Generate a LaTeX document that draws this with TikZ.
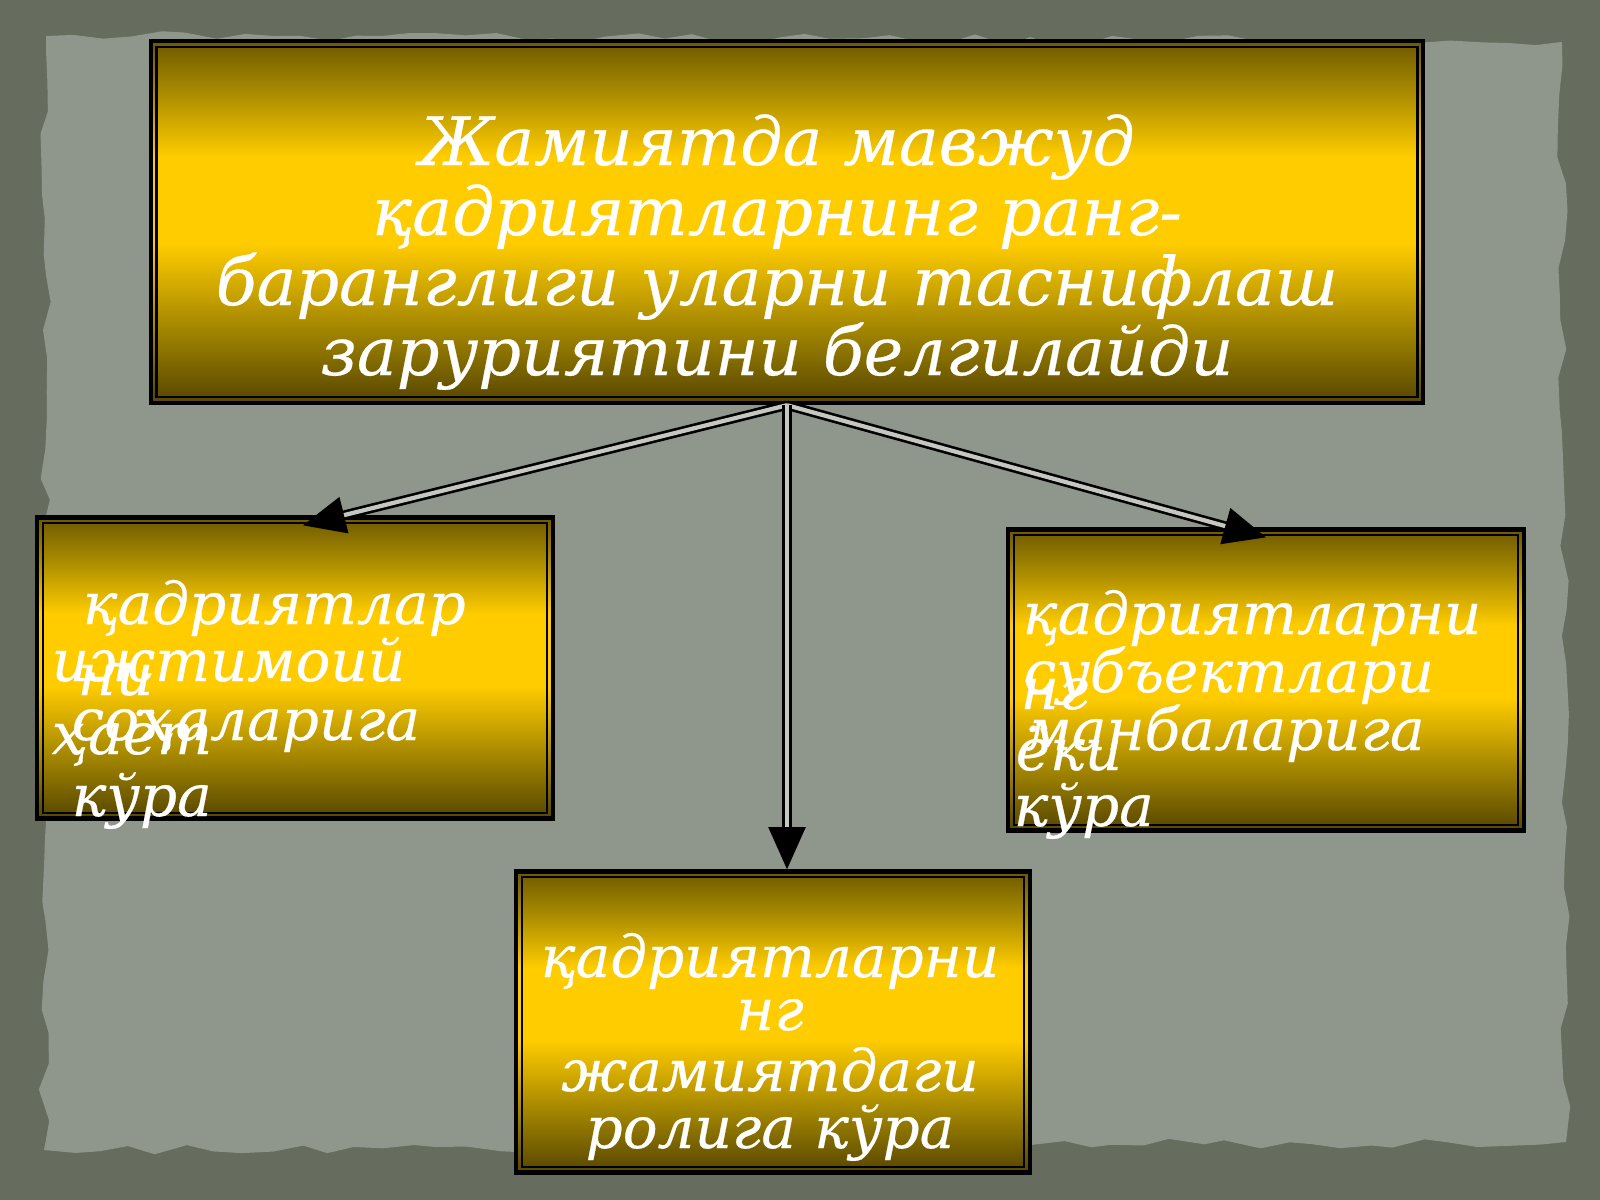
\documentclass[tikz,border=0pt]{standalone}
\usepackage{fontspec}
\newfontfamily\uzfont{DejaVu Serif}[FakeBold=0.4]
\usetikzlibrary{arrows.meta,decorations.pathmorphing}

\definecolor{frame}{HTML}{666D5E}
\definecolor{paper}{HTML}{8F968B}
\definecolor{gap}{HTML}{C4C8BE}
\definecolor{golddark}{HTML}{564600}
\definecolor{goldtop}{HTML}{6E5800}
\definecolor{goldmid}{HTML}{A88A00}
\definecolor{goldlite}{HTML}{FFCC00}
\pgfdeclareverticalshading{goldbar}{100bp}{color(0bp)=(golddark); color(25bp)=(golddark);
  color(36bp)=(goldmid); color(47bp)=(goldlite); color(59bp)=(goldlite);
  color(68bp)=(goldmid); color(75bp)=(goldtop); color(100bp)=(goldtop)}

\begin{document}
\begin{tikzpicture}[x=0.01cm,y=-0.01cm,
    goldbox/.style={draw=black,line width=1.2pt,shading=goldbar},
    wire/.style={draw=black,line width=0.75pt,double=gap,double distance=1.2pt,
      -{Triangle[length=12pt,width=10.5pt]}},
    big/.style={text=white,font=\uzfont\itshape\fontsize{19}{19}\selectfont,anchor=base,inner sep=0pt},
    word/.style={text=white,font=\uzfont\itshape\fontsize{16.5}{16.5}\selectfont,anchor=base west,inner sep=0pt}]
    % paper
    \fill[frame] (0,0) rectangle (1600,1200);
    \pgfmathsetseed{7}
    \fill[paper,decorate,decoration={random steps,segment length=8pt,amplitude=1.5pt}]
      (46,36) -- (1562,42) -- (1566,1142) -- (44,1150) -- cycle;
    \useasboundingbox (0,0) rectangle (1600,1200);
    % boxes
    \node[goldbox,minimum width=12.72cm,minimum height=3.62cm] (main) at (787,222) {};
    \node[goldbox,minimum width=5.15cm,minimum height=3.01cm] (social) at (295,668) {};
    \node[goldbox,minimum width=5.16cm,minimum height=3.01cm] (subject) at (1266,680) {};
    \node[goldbox,minimum width=5.14cm,minimum height=3.01cm] (role) at (773,1022) {};
    \foreach \b in {main,social,subject,role}
    \draw[line width=0.6pt] ([xshift=0.08cm,yshift=-0.08cm]\b.north west) rectangle ([xshift=-0.08cm,yshift=0.08cm]\b.south east);
    % arrows
    \draw[wire] (main.south) -- ([xshift=0.08cm,yshift=-0.1cm]social.north);
    \draw[wire] (main.south) -- ([yshift=-0.1cm]subject.north);
    \draw[wire] (main.south) -- (main.south |- role.north);
    % texts
    \foreach \s [count=\i] in {Жамиятда мавжуд,қадриятларнинг ранг-,баранглиги уларни таснифлаш,заруриятини белгилайди}
    \node[big] (head\i) at (777,95+70*\i) {\s};
    \node[word] (soc1) at (82,624) {қадриятлар};
    \node[word] (soc2) at (51,681) {ижтимоий};
    \node[word] (soc3) at (77,695) {ни};
    \node[word] (soc4) at (71,740) {соҳаларига};
    \node[word] (soc5) at (51,754) {ҳаёт};
    \node[word] (soc6) at (71,816) {кўра};
    \node[word] (sub1) at (1022,634) {қадриятларни};
    \node[word] (sub2) at (1023,692) {субъектлари};
    \node[word] (sub3) at (1020,709) {нг};
    \node[word] (sub4) at (1023,750) {манбаларига};
    \node[word] (sub5) at (1015,770) {ёки};
    \node[word] (sub6) at (1013,826) {кўра};
    \foreach \s/\y [count=\i] in {қадриятларни/977,нг/1030,жамиятдаги/1091,ролига кўра/1148}
    \node[word,anchor=base] (rol\i) at (770,\y) {\s};
\end{tikzpicture}
\end{document}
